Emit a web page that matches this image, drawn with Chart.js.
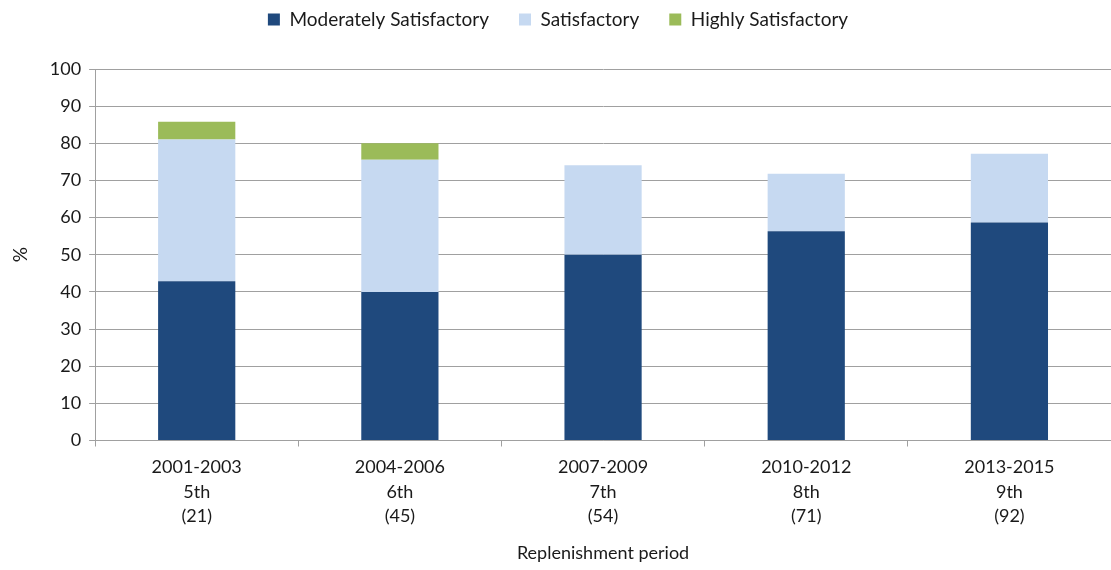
<!DOCTYPE html>
<html>
<head>
<meta charset="utf-8">
<script src="https://cdn.jsdelivr.net/npm/chart.js@4/dist/chart.umd.min.js"></script>
<style>
    html, body { margin: 0; padding: 0; background: #fff; }
    #wrap { width: 1111px; height: 570px; }
</style>
</head>
<body>
<div id="wrap"><canvas id="replChart" width="1111" height="570"></canvas></div>
<script>
// categories: period / replenishment / number of projects
const periods = ['2001-2003', '2004-2006', '2007-2009', '2010-2012', '2013-2015'];
const replenishments = ['5th', '6th', '7th', '8th', '9th'];
const counts = ['(21)', '(45)', '(54)', '(71)', '(92)'];

// percentages
const moderatelySatisfactory = [42.9, 40.0, 50.0, 56.3, 58.7];
const satisfactory = [38.1, 35.6, 24.1, 15.5, 18.5];
const highlySatisfactory = [4.8, 4.4, 0, 0, 0];

const yTicks = [0, 10, 20, 30, 40, 50, 60, 70, 80, 90, 100];

const labels = periods.map((p, i) => [p, replenishments[i], counts[i]]);
const fontFamily = 'Lato, "Open Sans", sans-serif';
const textColor = '#1a1a1a';
const gridColor = '#a0a0a0';

// extra room under the legend
const legendGap = {
    id: 'legendGap',
    beforeUpdate(chart) {
        const legend = chart.legend;
        if (!legend || legend._gapPatched) return;
        const fit = legend.fit;
        legend.fit = function () {
            fit.call(this);
            this.height += 30;
        };
        legend._gapPatched = true;
    }
};

new Chart(document.getElementById('replChart'), {
    type: 'bar',
    data: {
        labels,
        datasets: [
            { label: 'Moderately Satisfactory', data: moderatelySatisfactory, backgroundColor: '#1f497d', borderWidth: 0 },
            { label: 'Satisfactory', data: satisfactory, backgroundColor: '#c6d9f1', borderWidth: 0 },
            { label: 'Highly Satisfactory', data: highlySatisfactory, backgroundColor: '#9bbb59', borderWidth: 0 }
        ]
    },
    plugins: [legendGap],
    options: {
        responsive: false,
        animation: false,
        categoryPercentage: 1,
        barPercentage: 0.38,
        layout: { padding: { left: 5, right: 0, top: -20, bottom: 2 } },
        plugins: {
            tooltip: { enabled: false },
            legend: {
                position: 'top',
                labels: {
                    boxWidth: 12,
                    boxHeight: 12,
                    padding: 30,
                    color: textColor,
                    font: { family: fontFamily, size: 19 }
                }
            }
        },
        scales: {
            x: {
                stacked: true,
                offset: true,
                border: { color: gridColor, width: 1 },
                grid: { drawOnChartArea: false, drawTicks: true, tickLength: 6, color: gridColor, offset: true },
                ticks: { color: textColor, font: { family: fontFamily, size: 18, lineHeight: 1.35 }, padding: 9, maxRotation: 0 },
                title: { display: true, text: 'Replenishment period', color: textColor, font: { family: fontFamily, size: 18 }, padding: { top: 5 } }
            },
            y: {
                stacked: true,
                min: 0,
                max: 100,
                afterBuildTicks: axis => { axis.ticks = yTicks.map(v => ({ value: v })); },
                border: { color: gridColor, width: 1 },
                grid: { color: gridColor, tickLength: 6 },
                ticks: { color: textColor, font: { family: fontFamily, size: 18 }, padding: 8 },
                title: { display: true, text: '%', color: textColor, font: { family: fontFamily, size: 19 }, padding: { bottom: 10 } }
            }
        }
    }
});
</script>
</body>
</html>
